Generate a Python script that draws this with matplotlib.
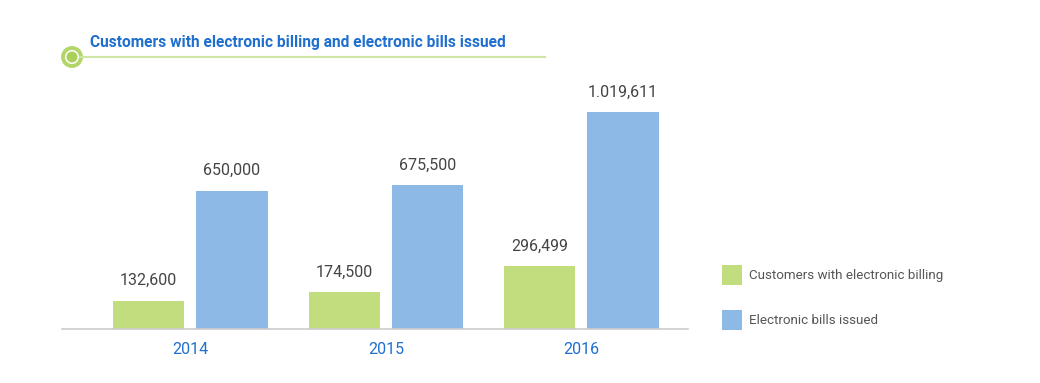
import matplotlib
matplotlib.use("Agg")
import matplotlib.pyplot as plt
from matplotlib.patches import Rectangle, Ellipse
import numpy as np

plt.rcParams["font.family"] = ["Roboto", "DejaVu Sans"]

years = ["2014", "2015", "2016"]
customers = [132600, 174500, 296499]
bills = [650000, 675500, 1019611]
customer_labels = ["132,600", "174,500", "296,499"]
bill_labels = ["650,000", "675,500", "1.019,611"]
series_names = ["Customers with electronic billing", "Electronic bills issued"]
title = "Customers with electronic billing and electronic bills issued"

GREEN = "#c1dd7d"
BLUE = "#8cb9e6"
TEXT_BLUE = "#1f6fcf"
GRAY = "#444444"

W, H = 1040, 383
fig = plt.figure(figsize=(W / 100, H / 100), dpi=100)
fig.patch.set_facecolor("white")

def fx(px):
    return px / W

def fy(py):
    return 1 - py / H

ax_left, ax_right, ax_bottom, ax_top = 62, 688, 329, 80
ax = fig.add_axes([fx(ax_left), fy(ax_bottom), fx(ax_right - ax_left), (ax_bottom - ax_top) / H])

x = np.arange(len(years))
width = 0.364
off = 0.213
ax.bar(x - off, customers, width, color=GREEN, zorder=2)
ax.bar(x + off, bills, width, color=BLUE, zorder=2)

ymax = 1019611 * (ax_bottom - ax_top) / 217
ax.set_ylim(0, ymax)
ax.set_xlim(-0.656, 2.545)

for xi, v, lab in zip(x, customers, customer_labels):
    ax.annotate(lab, (xi - off, v), xytext=(0, 9), textcoords="offset points",
                ha="center", va="bottom", fontsize=11.5, color=GRAY)
for xi, v, lab in zip(x, bills, bill_labels):
    ax.annotate(lab, (xi + off, v), xytext=(0, 9), textcoords="offset points",
                ha="center", va="bottom", fontsize=11.5, color=GRAY)

for s in ["top", "right", "left"]:
    ax.spines[s].set_visible(False)
ax.spines["bottom"].set_color("#cccccc")
ax.spines["bottom"].set_linewidth(1.2)
ax.set_yticks([])
ax.set_xticks(x)
ax.set_xticklabels(years, color=TEXT_BLUE, fontsize=11.5)
ax.tick_params(axis="x", length=0, pad=9)
ax.set_facecolor("white")

# Title decoration
fig.add_artist(plt.Line2D([fx(80), fx(545)], [fy(57), fy(57)], color="#cfe5a3", lw=1.5))
fig.text(fx(90), fy(43), title, fontsize=11.2, fontweight="bold", color=TEXT_BLUE,
         ha="left", va="center")
fig.add_artist(Ellipse((fx(72), fy(57)), 18 / W, 18 / H, facecolor="white",
                       edgecolor="#b3d66a", lw=2.8, transform=fig.transFigure))
fig.add_artist(Ellipse((fx(72), fy(57)), 11 / W, 11 / H, facecolor="#a8d05a",
                       edgecolor="none", transform=fig.transFigure))

# Legend
for (ytop, col, name) in [(265, GREEN, series_names[0]), (310, BLUE, series_names[1])]:
    fig.add_artist(Rectangle((fx(722), fy(ytop + 20)), 20 / W, 20 / H, facecolor=col,
                             edgecolor="none", transform=fig.transFigure))
    fig.text(fx(749), fy(ytop + 11), name, fontsize=9.6, color="#555555", ha="left", va="center")

fig.savefig("out.png", dpi=100, facecolor="white")
